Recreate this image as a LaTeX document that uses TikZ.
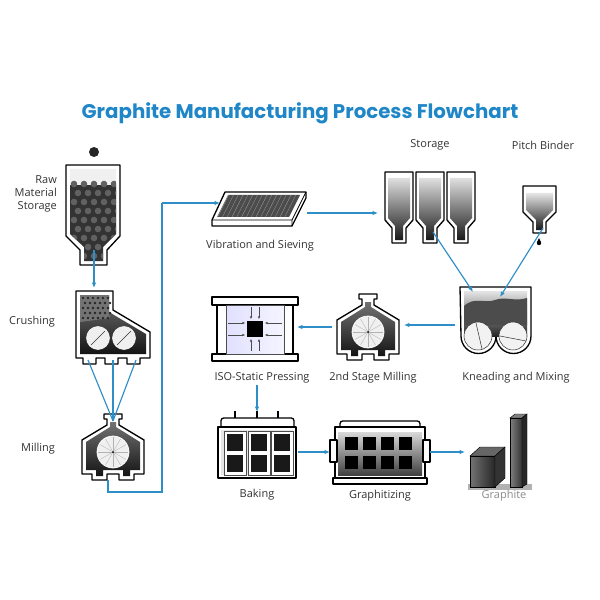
\documentclass[tikz,border=0pt]{standalone}
\usepackage{fontspec}
\setmainfont{Open Sans}
\newfontfamily\titlefont{Poppins}
\usetikzlibrary{arrows.meta}
\definecolor{flow}{HTML}{2E8FC8}
\definecolor{ttl}{HTML}{1F86C8}
\begin{document}
\begin{tikzpicture}[x=0.04cm,y=-0.04cm,
  lbl/.style={font=\fontsize{12.5}{15}\selectfont, text=black!80, align=center, inner sep=0},
  conn/.style={draw=flow, line width=1.3pt},
  arr/.style={conn, -{Latex[length=6pt,width=5pt]}},
  outl/.style={draw=black, line width=1.5pt, fill=white, line join=round},
  dark/.style={top color=black!55, bottom color=black!92, draw=none},
  pics/mill/.style={code={
    \path[outl] (-9,-38)--(9,-38)--(9,-33)--(6,-33)--(6,-27)--(31,-12)--(31,22)--(21,22)--(21,28)--(6,28)--(6,22)--(-6,22)--(-6,28)--(-21,28)--(-21,22)--(-31,22)--(-31,-12)--(-6,-27)--(-6,-33)--(-9,-33)--cycle;
    \path[dark] (-3,-30)--(3,-30)--(3,-25)--(27,-10)--(27,18)--(17,18)--(17,24)--(10,24)--(10,18)--(-10,18)--(-10,24)--(-17,24)--(-17,18)--(-27,18)--(-27,-10)--(-3,-25)--cycle;
    \path[fill=gray!12, draw=white, line width=0.8pt] (0,0) circle (16);
    \foreach \a in {0,30,...,330} \draw[gray!60, line width=0.4pt] (0,0) -- (\a:15);
    \fill (0,0) circle (1);
  }}]
\useasboundingbox (0,0) rectangle (600,600);
\fill[white] (0,0) rectangle (600,600);

\node[font=\titlefont\bfseries\fontsize{22.5}{26}\selectfont, text=ttl] (title) at (300,113) {Graphite Manufacturing Process Flowchart};

% Raw material storage
\fill[black!85] (94,152) circle (5);
\path[outl] (66,165)--(120,165)--(120,236)--(107,250)--(107,265)--(80,265)--(80,250)--(66,236)--cycle;
\path[fill=gray!12] (70,169)--(116,169)--(116,234)--(103,247)--(103,261)--(84,261)--(84,247)--(70,234)--cycle;
\begin{scope}
\clip (70,180)--(116,180)--(116,234)--(103,247)--(103,261)--(84,261)--(84,247)--(70,234)--cycle;
\fill[black!80] (68,185) rectangle (118,262);
\foreach \i in {0,...,4} \foreach \j in {0,...,8}
  \fill[black!62] ({74+\i*10+mod(\j,2)*4},{184+\j*9}) circle (3.3);
\end{scope}
\node[lbl, align=right, anchor=east] (rawl) at (57,194) {Raw\\Material\\Storage};
\node[inner sep=0, minimum width=54, minimum height=100] (raw) at (93,215) {};

% Crushing
\path[outl] (76,291)--(113,291)--(113,310)--(150,332)--(150,358)--(140,358)--(140,364)--(127,364)--(127,358)--(118,358)--(118,364)--(105,364)--(105,358)--(96,358)--(96,364)--(83,364)--(83,358)--(76,358)--cycle;
\path[dark] (80,295)--(109,295)--(109,312)--(146,334)--(146,354)--(80,354)--cycle;
\fill[black!55] (80,295)--(109,295)--(109,312)--(110,318)--(80,322)--cycle;
\foreach \i in {0,...,5} \foreach \j in {0,...,4}
  \fill[black!85] ({83+\i*5+mod(\j,2)*2},{298+\j*5}) circle (1.3);
\foreach \cx in {98,124}{
  \path[fill=blue!4!gray!12, draw=white, line width=0.6pt] (\cx,338) circle (11.5);
  \draw[black!80, line width=0.6pt] (\cx,338) ++(-7,7) -- ++(14,-14);}
\node[lbl] (crushl) at (32,322) {Crushing};
\coordinate (c1) at (88,360); \coordinate (c2) at (113,360); \coordinate (c3) at (136,360);

% Milling
\pic at (113,452) {mill};
\node[lbl] (milll) at (38,449) {Milling};
\coordinate (millin) at (113,421);
\coordinate (millout) at (108,480);
\coordinate (b1) at (108,492); \coordinate (b2) at (162,492); \coordinate (b3) at (162,203);

% Sieve
\path[outl] (225,192)--(306,192)--(306,198)--(292,226)--(212,226)--(212,220)--cycle;
\draw[black, line width=0.8pt] (212,220)--(292,220)--(306,192) (292,220)--(292,226);
\fill[black!70] (228,195)--(300,195)--(289,217)--(217,217)--cycle;
\foreach \t in {0,...,14} \draw[gray!70, line width=0.3pt] ({229+\t*4.8-0.4},195) -- ({218+\t*4.8-0.4},217);
\node[inner sep=0, minimum width=94, minimum height=34] (sieve) at (259,209) {};
\node[lbl] (sievel) at (260,246) {Vibration and Sieving};
\coordinate (sievein) at (220,203);

% Storage silos
\foreach \x in {385,416,447}{
  \path[outl] (\x,172)--(\x+28,172)--(\x+28,220)--(\x+21,228)--(\x+21,243)--(\x+7,243)--(\x+7,228)--(\x,220)--cycle;
  \path[top color=gray!25, bottom color=black!90] (\x+3,178)--(\x+25,178)--(\x+25,218)--(\x+18,226)--(\x+18,240)--(\x+10,240)--(\x+10,226)--(\x+3,218)--cycle;}
\node[inner sep=0, minimum width=90, minimum height=72] (stor) at (430,207) {};
\node[lbl] (storl) at (430,145) {Storage};
\coordinate (storout) at (433,232);

% Pitch binder
\path[outl] (523,186)--(556,186)--(556,212)--(546,222)--(546,233)--(533,233)--(533,222)--(523,212)--cycle;
\path[top color=gray!20, bottom color=black!90] (526,193)--(553,193)--(553,210)--(543,220)--(543,230)--(536,230)--(536,220)--(526,210)--cycle;
\fill[black] (539,243) circle (2.2); \fill[black] (539,238)--(537.2,242)--(540.8,242)--cycle;
\node[lbl] (pitchl) at (543,145) {Pitch Binder};
\coordinate (pitchout) at (543,228);

% Kneading and mixing
\path[outl] (460,287)--(531,287)--(531,336) arc[start angle=0,end angle=180,radius=17.5] arc[start angle=0,end angle=180,radius=17.5]--cycle;
\path[top color=gray!20, bottom color=black!85] (464,291)--(527,291)--(527,336)--(464,336)--cycle;
\path[fill=black!70] (464,306) .. controls (475,296) and (485,304) .. (495,300) .. controls (505,296) and (515,302) .. (527,298)--(527,325)--(464,325)--cycle;
\foreach \cx in {478,513}{
  \path[fill=blue!5!gray!10, draw=black!80, line width=0.6pt] (\cx,336) circle (14);}
\draw[black!80, line width=0.6pt] (476,323)--(482,349) (500,336)--(526,341);
\node[lbl] (kneadl) at (516,378) {Kneading and Mixing};
\node[inner sep=0, minimum width=72, minimum height=66] (knead) at (495,320) {};
\coordinate (kneadin1) at (473,292); \coordinate (kneadin2) at (500,297);
\coordinate (kneadout) at (455,325);

% 2nd stage milling
\pic at (368,332) {mill};
\node[lbl] (mill2l) at (373,378) {2nd Stage Milling};
\coordinate (mill2in) at (404,325); \coordinate (mill2out) at (332,327);

% ISO press
\path[outl] (212,297) rectangle (298,305);
\path[outl] (212,354) rectangle (298,361);
\path[outl] (217,305) rectangle (293,354);
\path[left color=blue!12, right color=blue!4, draw=black!70, line width=0.5pt] (226,305) rectangle (284,354);
\fill[black] (247,321) rectangle (263,337);
\foreach \ax/\ay/\bx/\by in {228/323/245/323,228/335/245/335,282/323/265/323,282/335/265/335,251/307/251/319,259/307/259/319,251/351/251/339,259/351/259/339}
  \draw[black!70, line width=0.4pt, -{Latex[length=3pt,width=3pt]}] (\ax,\ay) -- (\bx,\by);
\node[lbl] (isol) at (262,378) {ISO-Static Pressing};
\coordinate (isoin) at (297,327);
\coordinate (isoout) at (257,385);

% Baking
\foreach \x in {235,257,278} \draw[black, line width=1.2pt] (\x,411)--(\x,424);
\path[outl, rounded corners=3] (221,418) rectangle (294,430);
\path[outl] (218,427) rectangle (296,478);
\fill[gray!20] (221,430) rectangle (293,475);
\foreach \x in {224,248,271}{
  \path[draw=black!70, fill=white, line width=0.6pt] (\x,431) rectangle (\x+22,475);
  \fill[black!90] (\x+3,434) rectangle (\x+19,451);
  \fill[black!90] (\x+3,455) rectangle (\x+19,472);}
\node[lbl] (bakel) at (257,495) {Baking};
\coordinate (bakein) at (257,412); \coordinate (bakeout) at (298,452);

% Graphitizing
\path[outl, rounded corners=3] (340,421) rectangle (420,430);
\path[outl] (335,427) rectangle (425,478);
\path[top color=gray!30, bottom color=black!75] (338,432) rectangle (422,475);
\foreach \i in {0,...,3} \foreach \j in {0,1}
  \fill[black] ({345+\i*18},{437+\j*19}) rectangle ({358+\i*18},{450+\j*19});
\path[outl] (330,440) rectangle (337,462);
\path[outl] (423,440) rectangle (430,462);
\path[outl] (333,478) rectangle (427,484);
\node[lbl] (graphl) at (380,496) {Graphitizing};
\coordinate (graphin) at (330,452); \coordinate (graphout) at (430,452);

% Final product
\fill[gray!60] (468,484) rectangle (532,490);
\path[fill=black!60, draw=black, line width=0.5pt] (470,456)--(480,447)--(505,447)--(495,456)--cycle;
\path[left color=black!55, right color=black!85, draw=black, line width=0.5pt] (470,456) rectangle (495,487);
\path[fill=black!80, draw=black, line width=0.5pt] (495,456)--(505,447)--(505,478)--(495,487)--cycle;
\path[fill=black!50, draw=black, line width=0.5pt] (510,418)--(515,414)--(527,414)--(522,418)--cycle;
\path[left color=black!50, right color=black!80, draw=black, line width=0.5pt] (510,418) rectangle (522,487);
\path[fill=black!85, draw=black, line width=0.5pt] (522,418)--(527,414)--(527,484)--(522,487)--cycle;
\node[lbl, text=black!45] (prodl) at (504,496) {Graphite};
\coordinate (prodin) at (465,452);

% connectors
\coordinate (rawout) at (94,250);
\coordinate (crushin) at (94,288);
\coordinate (sieveout) at (307,213);
\coordinate (storin) at (378,213);
\draw[arr] (rawout) -- (crushin);
\draw[conn] (c1) -- (millin); \draw[conn] (c2) -- (millin); \draw[conn] (c3) -- (millin);
\draw[conn] (millout) -- (b1) -- (b2) -- (b3);
\draw[arr] (b3) -- (sievein);
\draw[arr] (sieveout) -- (storin);
\draw[arr] (storout) -- (kneadin1);
\draw[arr] (pitchout) -- (kneadin2);
\draw[arr] (kneadout) -- (mill2in);
\draw[arr] (mill2out) -- (isoin);
\draw[arr] (isoout) -- (bakein);
\draw[arr] (bakeout) -- (graphin);
\draw[arr] (graphout) -- (prodin);
\end{tikzpicture}
\end{document}
